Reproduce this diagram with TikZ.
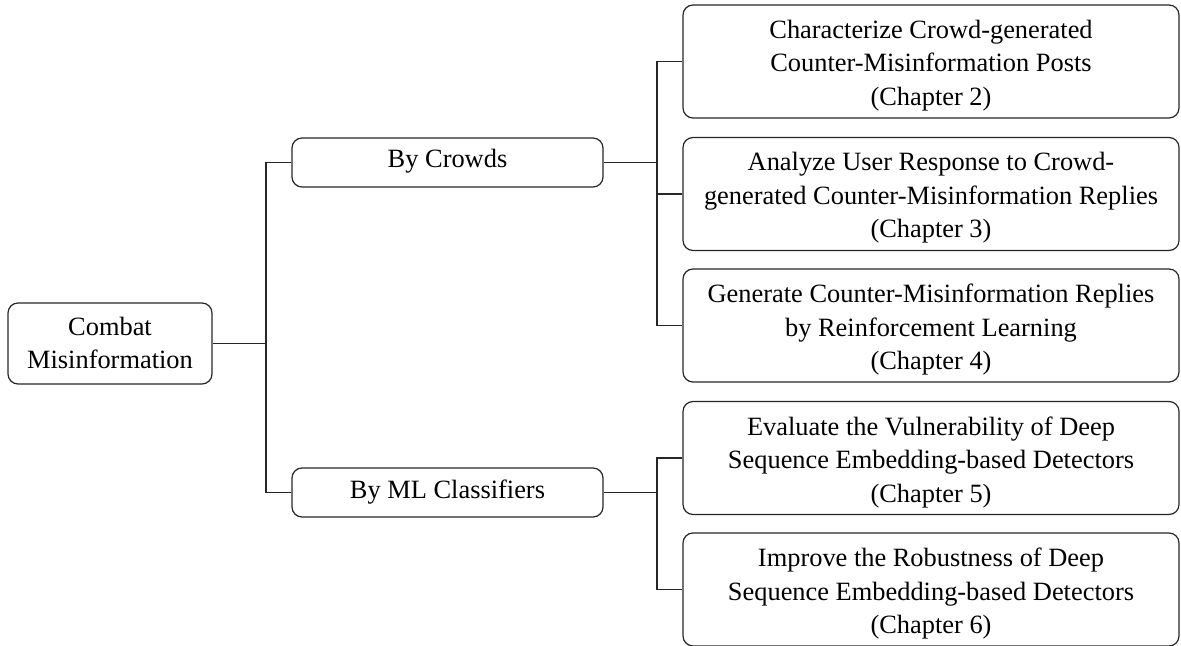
\documentclass[tikz,border=0pt]{standalone}
\usepackage{fontspec}
\setmainfont{Liberation Serif}
\begin{document}
\begin{tikzpicture}[x=0.5pt,y=-0.5pt,
  box/.style={draw=black!85, line width=0.6pt, rounded corners=5pt, align=center,
    inner sep=0pt, font=\fontsize{13.2}{16.75}\selectfont},
  rootbox/.style={box, minimum width=102pt, minimum height=40.5pt, text height=27.7pt, text depth=2.5pt},
  midbox/.style={box, minimum width=155.5pt, minimum height=24.5pt, text height=8pt, text depth=2.5pt},
  leafbox/.style={box, minimum width=248pt, minimum height=56.5pt, text height=46.5pt, text depth=2.5pt},
  conn/.style={draw=black!85, line width=0.6pt}]
\useasboundingbox (0,0) rectangle (1181,646);

\node[rootbox] (root) at (110,343.5) {Combat\\Misinformation};
\node[midbox] (crowds) at (447.5,162.5) {By Crowds};
\node[midbox] (ml) at (447.5,492.5) {By ML Classifiers};

\node[leafbox] (c1) at (931,61.5) {Characterize Crowd-generated\\Counter-Misinformation Posts\\(Chapter 2)};
\node[leafbox] (c2) at (931,194) {Analyze User Response to Crowd-\\generated Counter-Misinformation Replies\\(Chapter 3)};
\node[leafbox] (c3) at (931,325.5) {Generate Counter-Misinformation Replies\\by Reinforcement Learning\\(Chapter 4)};
\node[leafbox] (c4) at (931,458) {Evaluate the Vulnerability of Deep\\Sequence Embedding-based Detectors\\(Chapter 5)};
\node[leafbox] (c5) at (931,589.5) {Improve the Robustness of Deep\\Sequence Embedding-based Detectors\\(Chapter 6)};

\coordinate (j1) at (266,343.5);
\coordinate (j2) at (657,162.5);
\coordinate (j3) at (657,492.5);

\draw[conn] (root.east) -- (j1);
\draw[conn] (crowds.west) -| (j1) |- (ml.west);

\draw[conn] (crowds.east) -- (j2);
\draw[conn] (c1.west) -| (j2) |- (c3.west);
\draw[conn] (c2.west) -- (c2.west -| j2);

\draw[conn] (ml.east) -- (j3);
\draw[conn] (c4.west) -| (j3) |- (c5.west);
\end{tikzpicture}
\end{document}
